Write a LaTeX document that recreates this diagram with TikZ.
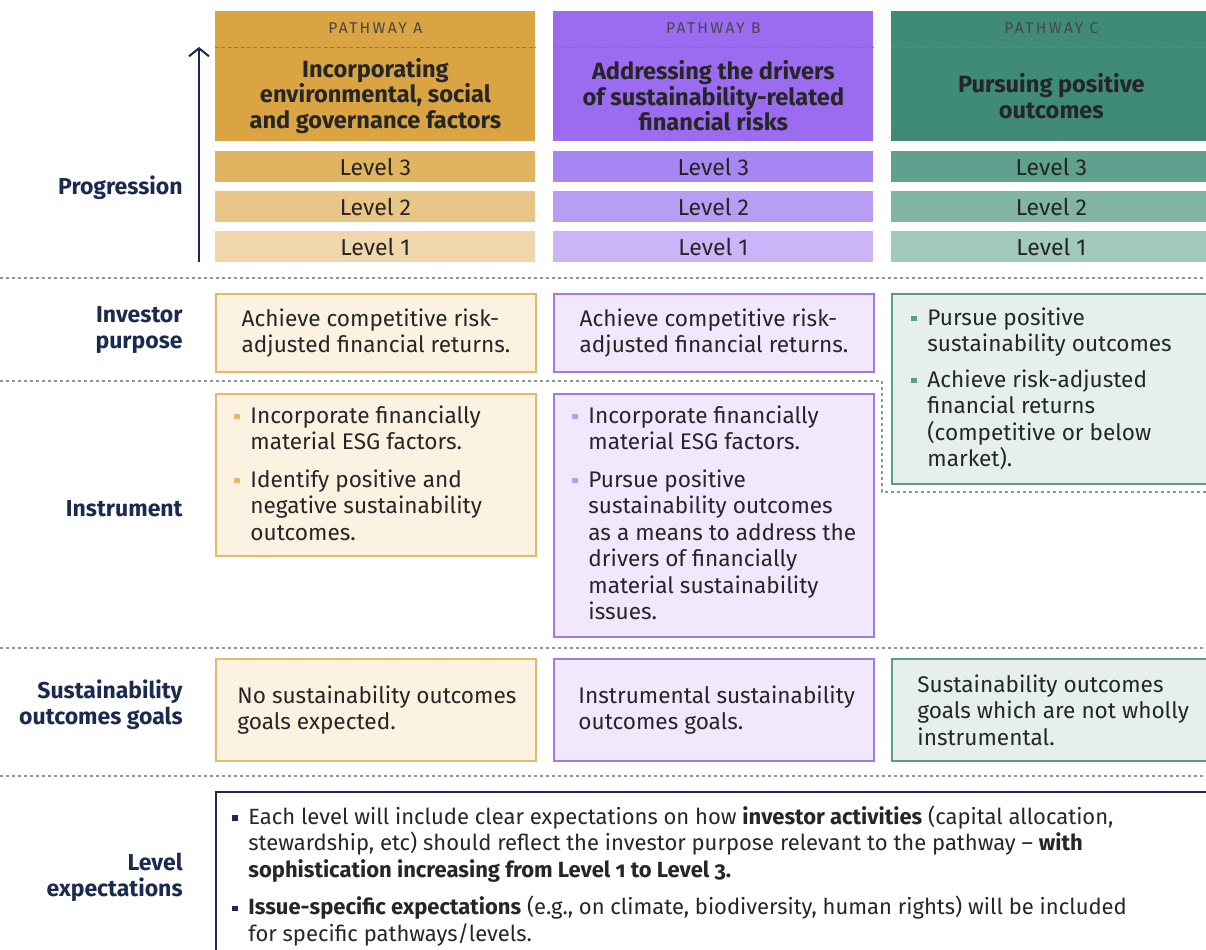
\documentclass[tikz,border=0pt]{standalone}
\usepackage{fontspec}
\setmainfont{Fira Sans}
\usepackage{xcolor}
\usetikzlibrary{arrows.meta}

\definecolor{navy}{HTML}{1B2A50}
\definecolor{ink}{HTML}{262626}
\definecolor{sepgray}{HTML}{8C95A8}
\definecolor{ahead}{HTML}{D9A441}
\definecolor{a3}{HTML}{E0B461}
\definecolor{a2}{HTML}{E9C688}
\definecolor{a1}{HTML}{F0D6AA}
\definecolor{afill}{HTML}{FCF2E2}
\definecolor{aline}{HTML}{E3BA6A}
\definecolor{bhead}{HTML}{9B6BF0}
\definecolor{b3}{HTML}{A785F2}
\definecolor{b2}{HTML}{B89DF5}
\definecolor{b1}{HTML}{CBB5F8}
\definecolor{bfill}{HTML}{F2E8FD}
\definecolor{bline}{HTML}{9D7CE8}
\definecolor{chead}{HTML}{3F8B77}
\definecolor{c3}{HTML}{5FA08E}
\definecolor{c2}{HTML}{82B4A6}
\definecolor{c1}{HTML}{A2C9BD}
\definecolor{cfill}{HTML}{E5F0EC}
\definecolor{cline}{HTML}{5E9A89}

\newcommand{\bodyfont}{\fontsize{11.3}{13.25}\selectfont}
\newcommand{\bul}[1]{\makebox[8pt][l]{\textcolor{#1}{\rule[.3ex]{2.6pt}{2.6pt}}}}
\newcommand{\ind}{\hspace*{8pt}}
\newcommand{\onum}[1]{{\addfontfeatures{Numbers=OldStyle}#1}}

\tikzset{
    head/.style = {rectangle, anchor=north west, inner sep=0pt, minimum width=160pt, minimum height=65pt},
    bar/.style = {rectangle, anchor=north west, inner sep=0pt, minimum width=160pt, minimum height=15.5pt, text=ink, font=\fontsize{11.5}{13}\selectfont},
    tag/.style = {inner sep=0pt, text=ink!85, font=\fontsize{7.8}{9}\selectfont\addfontfeatures{LetterSpace=15}},
    title/.style = {align=center, inner sep=0pt, text=ink, font=\fontsize{11.8}{12.75}\selectfont\bfseries},
    hdash/.style = {draw=ink!60, dash pattern=on 2pt off 1.2pt, line width=.4pt},
    card/.style = {rectangle, anchor=north west, draw, line width=1pt, inner sep=0pt, minimum width=160pt},
    txt/.style = {align=left, inner sep=0pt, text=ink, font=\bodyfont},
    rowlabel/.style = {anchor=east, align=right, inner sep=0pt, text=navy, font=\fontsize{11.5}{13}\selectfont\bfseries},
    sep/.style = {draw=sepgray, dash pattern=on 1.5pt off 1.5pt, line width=.6pt},
}

\begin{document}
\begin{tikzpicture}[x=0.5pt, y=-0.5pt]
\useasboundingbox (0,0) rectangle (1206,949);

% pathway headers
\node[head, fill=ahead] (heada) at (215,11) {};
\node[head, fill=bhead] (headb) at (553,11) {};
\node[head, fill=chead] (headc) at (891,11) {};
\foreach \c/\p in {a/A, b/B, c/C}{
    \node[tag] (tag\c) at ([yshift=-8.5pt]head\c.north) {PATHWAY \p};
    \draw[hdash] ([yshift=-18pt]head\c.north west) -- ([yshift=-18pt]head\c.north east);
}
\node[title] (titlea) at ([yshift=-42.5pt]heada.north) {Incorporating\\environmental, social\\and governance factors};
\node[title] (titleb) at ([yshift=-42.5pt]headb.north) {Addressing the drivers\\of sustainability-related\\financial risks};
\node[title] (titlec) at ([yshift=-42.5pt]headc.north) {Pursuing positive\\outcomes};

% levels
\foreach \c/\x in {a/215, b/553, c/891}
    \foreach \l/\y in {3/151, 2/191, 1/231}
        \node[bar, fill=\c\l] (\c\l) at (\x,\y) {Level \l};

\coordinate (arrlow) at (199,262);
\coordinate (arrtop) at (199,47);
\draw[navy, line width=1pt, -{Straight Barb[length=4pt, width=10pt]}] (arrlow) -- (arrtop);

% row labels
\node[rowlabel] (lprog) at (183,188) {Progression};
\node[rowlabel] (lpurp) at (183,330) {Investor\\purpose};
\node[rowlabel] (linst) at (183,509) {Instrument};
\node[rowlabel] (lgoal) at (183,705) {Sustainability\\outcomes goals};
\node[rowlabel] (llevx) at (183,877) {Level\\expectations};

% separators
\draw[sep] (0,278) -- (1206,278);
\draw[sep] (0,381) -- (882,381) -- (882,492) -- (1206,492);
\draw[sep] (0,648) -- (1206,648);
\draw[sep] (0,776) -- (1206,776);

% investor purpose
\node[card, draw=aline, fill=afill, minimum height=39pt] (purpa) at (215,293) {};
\node[txt] (purpa-t) at (purpa.center) {Achieve competitive risk-\\adjusted financial returns.};
\node[card, draw=bline, fill=bfill, minimum height=39pt] (purpb) at (553,293) {};
\node[txt] (purpb-t) at (purpb.center) {Achieve competitive risk-\\adjusted financial returns.};
\node[card, draw=cline, fill=cfill, minimum height=95pt, minimum width=170pt] (purpc) at (891,293) {};
\node[txt, anchor=north west] (purpc-t) at ([xshift=10pt, yshift=-7pt]purpc.north west)
    {\bul{cline}Pursue positive\\\ind sustainability outcomes\\[4.5pt]\bul{cline}Achieve risk-adjusted\\\ind financial returns\\\ind (competitive or below\\\ind market).};

% instrument
\node[card, draw=aline, fill=afill, minimum height=81pt] (insta) at (215,393) {};
\node[txt, anchor=north west] (insta-t) at ([xshift=9.5pt, yshift=-6pt]insta.north west)
    {\bul{aline}Incorporate financially\\\ind material ESG factors.\\[5.5pt]\bul{aline}Identify positive and\\\ind negative sustainability\\\ind outcomes.};
\node[card, draw=bline, fill=bfill, minimum height=121.5pt] (instb) at (553,393) {};
\node[txt, anchor=north west] (instb-t) at ([xshift=9.5pt, yshift=-6pt]instb.north west)
    {\bul{b2}Incorporate financially\\\ind material ESG factors.\\[5.5pt]\bul{b2}Pursue positive\\\ind sustainability outcomes\\\ind as a means to address the\\\ind drivers of financially\\\ind material sustainability\\\ind issues.};

% sustainability outcomes goals
\node[card, draw=aline, fill=afill, minimum height=51pt] (goala) at (215,658) {};
\node[txt, anchor=west] (goala-t) at ([xshift=11pt]goala.west) {No sustainability outcomes\\goals expected.};
\node[card, draw=bline, fill=bfill, minimum height=51pt] (goalb) at (553,658) {};
\node[txt, anchor=west] (goalb-t) at ([xshift=12.5pt]goalb.west) {Instrumental sustainability\\outcomes goals.};
\node[card, draw=cline, fill=cfill, minimum height=51pt, minimum width=170pt] (goalc) at (891,658) {};
\node[txt, anchor=west] (goalc-t) at ([xshift=13pt]goalc.west) {Sustainability outcomes\\goals which are not wholly\\instrumental.};

% level expectations
\node[card, draw=navy, fill=white, minimum width=510pt, minimum height=90pt] (levx) at (215,791) {};
\node[txt, anchor=north west, font=\fontsize{11}{13.25}\selectfont] (levx-t) at ([xshift=8.5pt, yshift=-7pt]levx.north west)
    {\bul{navy}Each level will include clear expectations on how \textbf{investor activities} (capital allocation,\\
     \ind stewardship, etc) should reflect the investor purpose relevant to the pathway – \textbf{with}\\
     \ind \textbf{sophistication increasing from Level \onum{1} to Level \onum{3}.}\\[5.5pt]
     \bul{navy}\textbf{Issue-specific expectations} (e.g., on climate, biodiversity, human rights) will be included\\
     \ind for specific pathways/levels.};
\end{tikzpicture}
\end{document}
